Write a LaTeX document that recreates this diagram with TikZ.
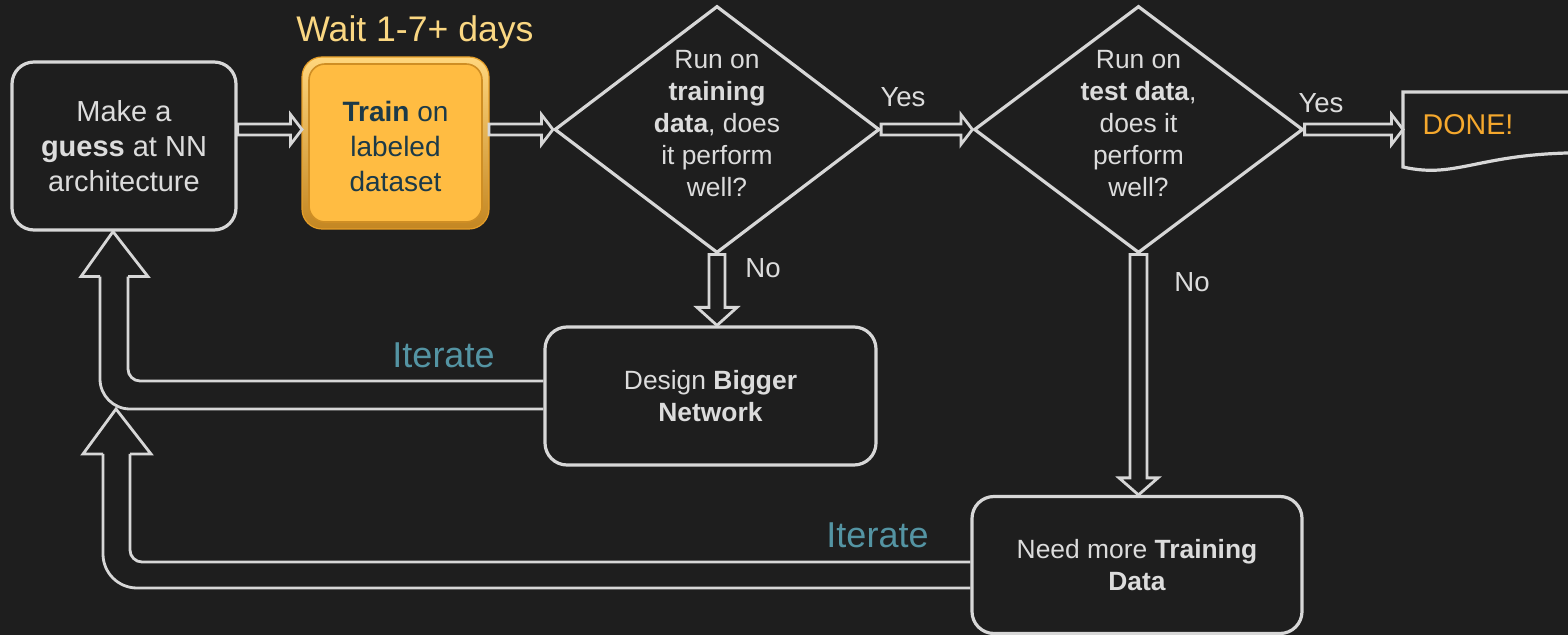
\documentclass[tikz,border=0pt]{standalone}
\usepackage{fontspec}
\setmainfont{Liberation Sans}
\usetikzlibrary{calc,shapes.geometric}
\definecolor{bg}{RGB}{30,30,30}
\definecolor{lc}{RGB}{215,215,215}
\definecolor{tc}{RGB}{220,220,220}
\definecolor{iterc}{RGB}{84,148,163}
\definecolor{waitc}{RGB}{250,215,130}
\definecolor{donec}{RGB}{245,168,45}
\definecolor{gold}{RGB}{255,188,66}
\definecolor{goldrim}{RGB}{230,158,40}
\definecolor{goldhi}{RGB}{255,214,125}
\definecolor{traintc}{RGB}{28,58,72}
% hollow block arrow: start, end, shaft half width, head half width, head length
\newcommand\hollowarrow[5]{%
  \path ($(#2)!#5!(#1)$) coordinate (hb);
  \draw[conn] ($(#1)!#3!90:(#2)$) -- ($(hb)!#3!-90:(#1)$) -- ($(hb)!#4!-90:(#1)$)
    -- (#2) -- ($(hb)!#4!90:(#1)$) -- ($(hb)!#3!90:(#1)$) -- ($(#1)!#3!-90:(#2)$) -- cycle;
}
\begin{document}
\begin{tikzpicture}[x=0.5pt,y=-0.5pt,
  conn/.style={draw=lc,line width=1.4pt,line join=miter},
  box/.style={draw=lc,line width=1.6pt,rounded corners=11pt,text=tc,align=center,inner sep=0pt},
  boxfont/.style={font=\fontsize{14.5}{17.5}\selectfont},
  smallfont/.style={font=\fontsize{13.2}{15.75}\selectfont},
  dia/.style={draw=lc,line width=1.6pt,shape=diamond,inner sep=0pt,minimum width=162.5pt,minimum height=123.5pt},
  dtext/.style={text=tc,align=center,inner sep=0pt,font=\fontsize{13.2}{16}\selectfont},
  lab/.style={text=tc,anchor=base,inner sep=0pt,font=\fontsize{13.8}{16}\selectfont},
  iter/.style={text=iterc,anchor=base,inner sep=0pt,font=\fontsize{18}{20}\selectfont}]
\useasboundingbox (0,0) rectangle (1568,635);
\fill[bg] (0,0) rectangle (1568,635);
\begin{scope}
\clip (0,0) rectangle (1568,635);

% nodes
\node[box,boxfont,minimum width=112pt,minimum height=84pt] (guess) at (124,146)
  {Make a\\\textbf{guess} at NN\\architecture};
\node[minimum width=93.5pt,minimum height=86pt,inner sep=0pt,outer sep=0pt,rounded corners=10pt,
  top color=goldhi,bottom color=goldrim!85!black,draw=goldrim,line width=0.6pt] (train) at (395.5,143) {};
\fill[gold,draw=goldrim!90!black,line width=0.8pt,rounded corners=8pt]
  ($(train.north west)+(7,7)$) rectangle ($(train.south east)+(-7,-7)$);
\node[text=traintc,align=center,inner sep=0pt,font=\fontsize{14}{17.5}\selectfont] (traint)
  at ($(train.center)+(0,3)$) {\textbf{Train} on\\labeled\\dataset};
\node[iter,text=waitc,font=\fontsize{17.8}{20}\selectfont] (wait) at (415,42) {Wait 1-7+ days};

\node[dia,label={[dtext,yshift=3pt]center:Run on\\\textbf{training}\\\textbf{data}, does\\it perform\\well?}] (d1) at (717,129.5) {};
\node[dia,minimum width=164.5pt,label={[dtext,yshift=3pt]center:Run on\\\textbf{test data},\\does it\\perform\\well?}] (d2) at (1138.5,129.5) {};

\node[box,smallfont,minimum width=165.5pt,minimum height=69pt] (design) at (710.5,396)
  {Design \textbf{Bigger}\\\textbf{Network}};
\node[box,smallfont,minimum width=165pt,minimum height=68.5pt] (need) at (1137,565)
  {Need more \textbf{Training}\\\textbf{Data}};

% DONE document shape
\coordinate (donew) at (1403,129.5);
\node[lab,text=donec,font=\fontsize{14.3}{16}\selectfont] (done) at (1468,134.5) {DONE!};
\draw[draw=lc,line width=1.6pt] (1600,92) -- (1403,92) -- (1403,167)
  .. controls (1460,180) and (1480,150) .. (1600,153);

% labels
\node[lab] (yes1) at (903,107) {Yes};
\node[lab] (yes2) at (1321,113) {Yes};
\node[lab] (no1) at (763,278) {No};
\node[lab] (no2) at (1192,292) {No};
\node[iter] (it1) at (443.5,368) {Iterate};
\node[iter] (it2) at (877.5,547) {Iterate};

% horizontal arrows
\coordinate (a1s) at (guess.east |- d1.west);
\coordinate (a1e) at (train.west |- d1.west);
\coordinate (a2s) at (train.east |- d1.west);
\hollowarrow{a1s}{a1e}{2.75pt}{7.5pt}{5.75pt}
\hollowarrow{a2s}{d1.west}{2.75pt}{7.5pt}{5.75pt}
\hollowarrow{d1.east}{d2.west}{2.75pt}{7.5pt}{5.75pt}
\hollowarrow{d2.east}{donew}{2.75pt}{7.5pt}{5.75pt}
% vertical arrows
\coordinate (v1e) at (d1.south |- design.north);
\coordinate (v2e) at (d2.south |- need.north);
\hollowarrow{d1.south}{v1e}{4pt}{10pt}{9pt}
\hollowarrow{d2.south}{v2e}{4.25pt}{9.75pt}{8.5pt}

% iterate arrow 1
\coordinate (t1) at ($(guess.south)+(-11,0)$);
\draw[conn,rounded corners=6pt] ($(design.west)+(0,-15)$) -| ($(t1)+(15,45)$);
\draw[conn] ($(t1)+(15,45)$) -- ($(t1)+(35,45)$) -- (t1) -- ($(t1)+(-32,45)$) -- ($(t1)+(-13,45)$);
\draw[conn,rounded corners=15pt] ($(t1)+(-13,45)$) |- ($(design.west)+(0,13)$);
% iterate arrow 2
\path (t1 |- design.west) ++(3,13) coordinate (t2);
\draw[conn,rounded corners=6pt] ($(need.west)+(0,-3)$) -| ($(t2)+(14,45)$);
\draw[conn] ($(t2)+(14,45)$) -- ($(t2)+(35,45)$) -- (t2) -- ($(t2)+(-33,45)$) -- ($(t2)+(-13,45)$);
\draw[conn,rounded corners=17pt] ($(t2)+(-13,45)$) |- ($(need.west)+(0,23)$);
\end{scope}
\end{tikzpicture}
\end{document}
